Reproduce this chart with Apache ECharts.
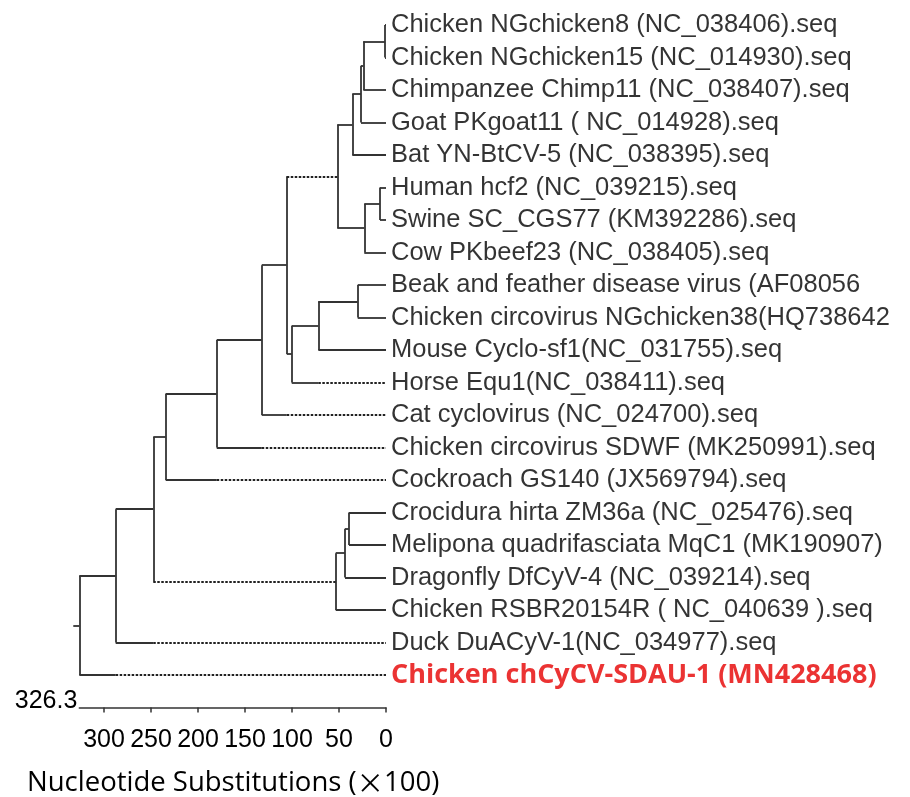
<!DOCTYPE html>
<html>
<head>
<meta charset="utf-8">
<script src="https://cdn.jsdelivr.net/npm/echarts@6/dist/echarts.min.js"></script>
<style>
  html, body { margin: 0; padding: 0; background: #fff; }
  #chart { width: 910px; height: 797px; }
</style>
</head>
<body>
<div id="chart"></div>
<script>
// leaf labels, top to bottom
const leafNames = [
  'Chicken NGchicken8 (NC_038406).seq',
  'Chicken NGchicken15 (NC_014930).seq',
  'Chimpanzee Chimp11 (NC_038407).seq',
  'Goat PKgoat11 ( NC_014928).seq',
  'Bat YN-BtCV-5 (NC_038395).seq',
  'Human hcf2 (NC_039215).seq',
  'Swine SC_CGS77 (KM392286).seq',
  'Cow PKbeef23 (NC_038405).seq',
  'Beak and feather disease virus (AF08056',
  'Chicken circovirus NGchicken38(HQ738642',
  'Mouse Cyclo-sf1(NC_031755).seq',
  'Horse Equ1(NC_038411).seq',
  'Cat cyclovirus (NC_024700).seq',
  'Chicken circovirus SDWF (MK250991).seq',
  'Cockroach GS140 (JX569794).seq',
  'Crocidura hirta ZM36a (NC_025476).seq',
  'Melipona quadrifasciata MqC1 (MK190907)',
  'Dragonfly DfCyV-4 (NC_039214).seq',
  'Chicken RSBR20154R ( NC_040639 ).seq',
  'Duck DuACyV-1(NC_034977).seq',
  'Chicken chCyCV-SDAU-1 (MN428468)'
]
const highlightLeaf = 20

// internal nodes (joins), children are leaf indexes (L#) or node ids
const nodeIds = ['A', 'B', 'C', 'D', 'E', 'F', 'G', 'I', 'J', 'K', 'H', 'L', 'M', 'N', 'P', 'Q', 'R', 'O', 'S', 'T']
const nodeKids = [
  ['L0', 'L1'], ['A', 'L2'], ['B', 'L3'], ['C', 'L4'],
  ['L5', 'L6'], ['E', 'L7'], ['D', 'F'],
  ['L8', 'L9'], ['I', 'L10'], ['J', 'L11'], ['G', 'K'],
  ['H', 'L12'], ['L', 'L13'], ['M', 'L14'],
  ['L15', 'L16'], ['P', 'L17'], ['Q', 'L18'],
  ['N', 'R'], ['O', 'L19'], ['S', 'L20']
]
// distance (nucleotide substitutions x100)
const nodeHeight = [1.0, 24.1, 26.6, 35.9, 6.4, 23.1, 51.8, 30.1, 72.0, 100.3, 105.6, 132.2, 180.1, 234.4, 39.4, 43.6, 53.5, 247.6, 287.6, 326.3]
const rootStub = 332.7

// branches drawn dotted from this height down to the child
const dottedBranch = ['L11', 'G', 'L12', 'L13', 'L14', 'R', 'L19', 'L20']
const dottedFrom = [72.0, 105.6, 105.6, 132.2, 180.1, 247.6, 247.6, 287.6]

// axis
const axisMax = 326.3
const tickValues = [0, 50, 100, 150, 200, 250, 300]

// ---- build segments
const pos = {}
leafNames.forEach((n, i) => { pos['L' + i] = { x: 0, y: i } })
nodeIds.forEach((id, i) => {
  const a = pos[nodeKids[i][0]]
  const b = pos[nodeKids[i][1]]
  pos[id] = { x: nodeHeight[i], y: (a.y + b.y) / 2, top: a.y, bottom: b.y }
})

const solid = []
const dotted = []
nodeIds.forEach((id, i) => {
  const p = pos[id]
  solid.push({ coords: [[p.x, p.top], [p.x, p.bottom]] })
  nodeKids[i].forEach(k => {
    const c = pos[k]
    const di = dottedBranch.indexOf(k)
    if (di >= 0) {
      const d = dottedFrom[di]
      if (d < p.x) solid.push({ coords: [[p.x, c.y], [d, c.y]] })
      dotted.push({ coords: [[d, c.y], [c.x, c.y]] })
    } else {
      solid.push({ coords: [[p.x, c.y], [c.x, c.y]] })
    }
  })
})
const root = pos['T']
solid.push({ coords: [[rootStub, root.y], [root.x, root.y]] })

const leafPoints = leafNames.map((n, i) => {
  const item = { name: n, value: [0, i] }
  if (i === highlightLeaf) {
    item.label = {
      color: '#e60000',
      fontFamily: 'Open Sans',
      fontWeight: 'bold',
      fontSize: 27
    }
  }
  return item
})

const chart = echarts.init(document.getElementById('chart'))
const option = {
  backgroundColor: '#fff',
  animation: false,
  title: {
    text: 'Nucleotide Substitutions ({x|×}100)',
    left: 22,
    top: 764,
    textStyle: {
      fontFamily: 'Open Sans',
      fontWeight: 'normal',
      fontSize: 27.5,
      color: '#000',
      rich: {
        x: { fontFamily: 'Noto Sans CJK SC', fontSize: 27.5, color: '#000' }
      }
    }
  },
  grid: {
    left: 79.3,
    right: 524,
    top: 25,
    bottom: 89.5,
    containLabel: false
  },
  xAxis: {
    type: 'value',
    position: 'bottom',
    inverse: true,
    min: 0,
    max: axisMax,
    name: '326.3',
    nameLocation: 'end',
    nameGap: 2,
    nameTextStyle: {
      fontFamily: 'Liberation Sans',
      fontSize: 25,
      color: '#000',
      verticalAlign: 'bottom',
      padding: [0, 0, -6, 0]
    },
    axisLine: { onZero: false, lineStyle: { color: '#333', width: 1.5 } },
    axisTick: { customValues: tickValues, length: 5, lineStyle: { color: '#333', width: 1.5 } },
    axisLabel: {
      customValues: tickValues,
      margin: 20,
      fontFamily: 'Liberation Sans',
      fontSize: 25,
      color: '#000'
    },
    splitLine: { show: false }
  },
  yAxis: {
    type: 'value',
    inverse: true,
    min: 0,
    max: leafNames.length,
    show: false
  },
  series: [
    {
      type: 'lines',
      coordinateSystem: 'cartesian2d',
      polyline: false,
      clip: false,
      silent: true,
      lineStyle: { color: '#333', width: 1.8, opacity: 1 },
      data: solid
    },
    {
      type: 'lines',
      coordinateSystem: 'cartesian2d',
      polyline: false,
      clip: false,
      silent: true,
      lineStyle: { color: '#222', width: 2, opacity: 1, type: [2.5, 1.5] },
      data: dotted
    },
    {
      type: 'scatter',
      symbolSize: 0,
      clip: false,
      silent: true,
      label: {
        show: true,
        position: 'right',
        distance: 5,
        formatter: p => p.name,
        fontFamily: 'Liberation Sans',
        fontSize: 25.5,
        color: '#000'
      },
      data: leafPoints
    }
  ]
}
chart.setOption(option)
</script>
</body>
</html>
